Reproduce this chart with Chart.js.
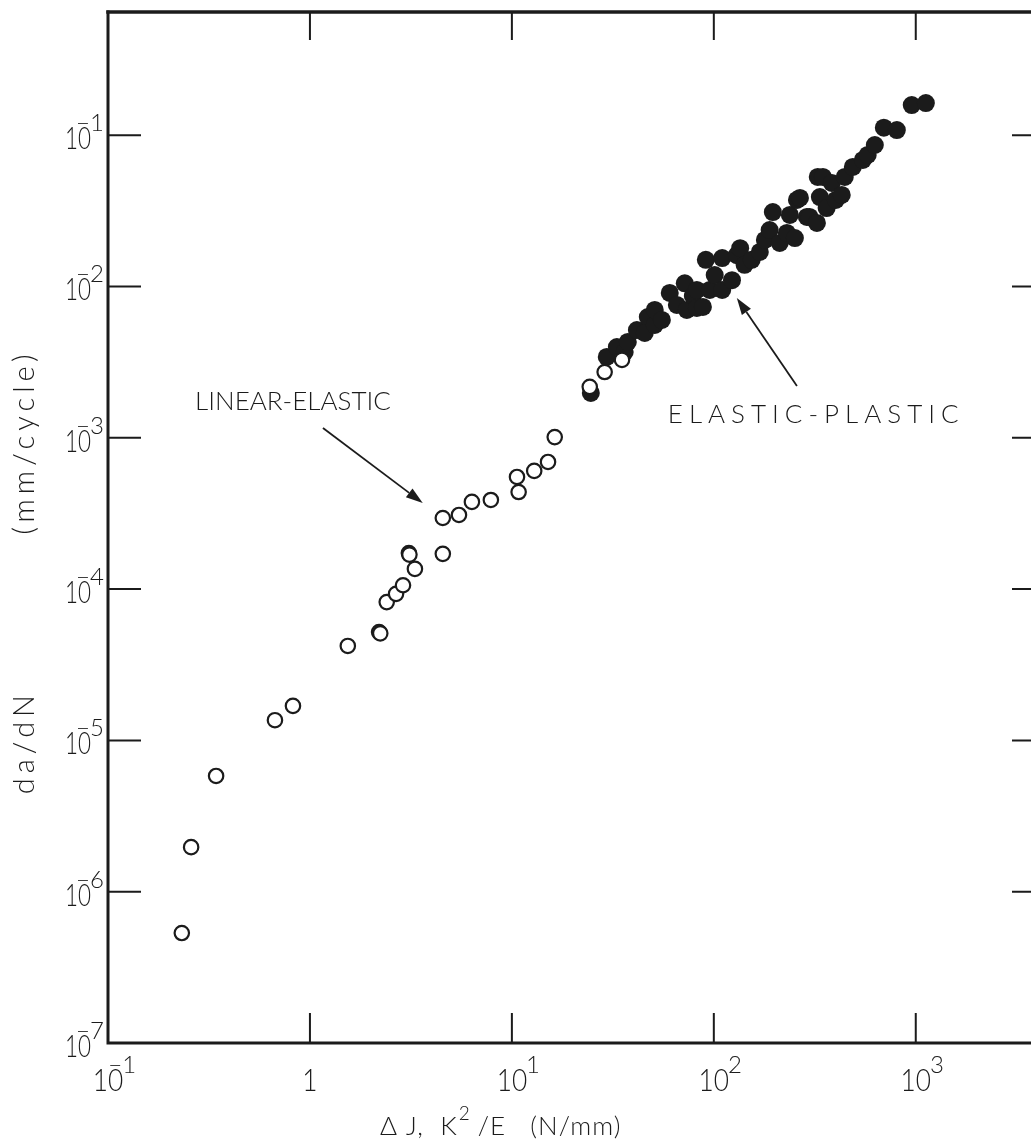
<!DOCTYPE html>
<html>
<head>
<meta charset="utf-8">
<script src="https://cdn.jsdelivr.net/npm/chart.js@4.4.1/dist/chart.umd.min.js"></script>
<style>
  html, body { margin: 0; padding: 0; background: #fff; overflow: hidden; }
  #wrap { position: relative; width: 1060px; height: 1145px; }
</style>
</head>
<body>
<div id="wrap"><canvas id="crackChart"></canvas></div>
<script>
// open circles - linear elastic range (K^2/E)
const openDeltaJ = [0.232, 0.258, 0.343, 0.671, 0.824, 1.54, 2.20, 2.23, 2.40, 2.67, 2.89, 3.31,
  3.09, 3.11, 4.55, 4.55, 5.47, 6.34, 7.87, 10.8, 10.6, 12.9, 15.1, 16.3, 24.3, 28.8, 35.1];
const openRate = [5.33e-7, 1.97e-6, 5.82e-6, 1.36e-5, 1.69e-5, 4.21e-5, 5.2e-5, 5.1e-5, 8.2e-5, 9.3e-5, 1.06e-4, 1.36e-4,
  1.73e-4, 1.69e-4, 1.71e-4, 2.95e-4, 3.09e-4, 3.77e-4, 3.88e-4, 4.38e-4, 5.51e-4, 6.04e-4, 6.92e-4, 1.01e-3, 2.17e-3, 2.72e-3, 3.27e-3];

// filled circles - elastic-plastic range (delta J)
const filledDeltaJ = [24.6, 29.5, 33.1, 36.2, 37.5, 41.6, 47.1, 45.5, 51, 51, 55.3, 60.5, 65.6, 73.5, 71.8, 78.7, 82.4, 82.4, 88.3,
  91.3, 95.5, 101, 110, 110, 123, 130, 135, 142, 154, 169, 179, 189, 196, 212, 230, 238, 252, 258, 267, 289, 298,
  324, 327, 335, 347, 362, 384, 402, 430, 445, 488, 547, 578, 627, 695, 806, 955, 1122];
const filledRate = [1.98e-3, 3.42e-3, 3.98e-3, 3.69e-3, 4.30e-3, 5.15e-3, 6.28e-3, 4.93e-3, 5.57e-3, 7.0e-3, 6.01e-3, 9.06e-3, 7.55e-3, 7.0e-3, 1.05e-2, 8.65e-3, 7.21e-3, 9.48e-3, 7.33e-3,
  1.50e-2, 9.48e-3, 1.19e-2, 1.54e-2, 9.48e-3, 1.10e-2, 1.61e-2, 1.79e-2, 1.39e-2, 1.50e-2, 1.69e-2, 2.03e-2, 2.36e-2, 3.10e-2, 1.94e-2, 2.26e-2, 2.97e-2, 2.09e-2, 3.73e-2, 3.85e-2, 2.88e-2, 2.88e-2,
  2.63e-2, 5.30e-2, 3.90e-2, 5.30e-2, 3.30e-2, 4.83e-2, 3.73e-2, 4.03e-2, 5.30e-2, 6.17e-2, 6.86e-2, 7.40e-2, 8.61e-2, 0.112, 0.108, 0.158, 0.163];

// tick labels: [mantissa, exponent]
const xTickValues = [0.1, 1, 10, 100, 1000];
const xTickLabels = [["10", "-1"], ["1", ""], ["10", "1"], ["10", "2"], ["10", "3"]];
const yTickValues = [1e-1, 1e-2, 1e-3, 1e-4, 1e-5, 1e-6, 1e-7];
const yTickLabels = [["10", "-1"], ["10", "-2"], ["10", "-3"], ["10", "-4"], ["10", "-5"], ["10", "-6"], ["10", "-7"]];

const notes = [
  { text: "LINEAR-ELASTIC", x: 0.27, y: 1.73e-3, spacing: 0, tail: [1.16, 1.16e-3], head: [3.62, 3.7e-4] },
  { text: "ELASTIC-PLASTIC", x: 59.2, y: 1.42e-3, spacing: 6, tail: [258, 2.2e-3], head: [130, 8.4e-3] }
];

const INK = "#1b1b1b";
const FONT = "Lato";

function powLabel(ctx, base, exp, x, cy, align, sx) {
  ctx.save();
  ctx.fillStyle = INK;
  ctx.textAlign = "left";
  ctx.textBaseline = "alphabetic";
  ctx.font = `300 32px ${FONT}`;
  const bw = ctx.measureText(base).width * sx;
  const left = align === "right" ? x - bw : x - bw / 2;
  ctx.save();
  ctx.translate(left, cy + 11);
  ctx.scale(sx, 1);
  ctx.fillText(base, 0, 0);
  ctx.restore();
  if (exp) {
    ctx.font = `300 24px ${FONT}`;
    const digit = exp.replace("-", "");
    if (exp[0] === "-") {
      ctx.textAlign = "center";
      ctx.fillText("\u2212", left + bw - 8, cy - 7);
      ctx.textAlign = "left";
    }
    ctx.fillText(digit, left + bw - 1, cy - 7);
  }
  ctx.restore();
}

const framePlugin = {
  id: "frame",
  beforeDatasetsDraw(chart) {
    const { ctx, chartArea: a, scales: { x, y } } = chart;
    ctx.save();
    ctx.strokeStyle = INK;
    ctx.lineCap = "square";
    ctx.lineWidth = 3;
    ctx.beginPath();
    ctx.moveTo(a.left, a.bottom); ctx.lineTo(a.right, a.bottom);
    ctx.moveTo(a.left, a.top); ctx.lineTo(a.left, a.bottom);
    ctx.moveTo(a.right, a.top); ctx.lineTo(a.right, a.bottom);
    ctx.stroke();
    ctx.lineWidth = 3.5;
    ctx.beginPath();
    ctx.moveTo(a.left, a.top); ctx.lineTo(a.right, a.top);
    ctx.stroke();
    ctx.lineWidth = 2;
    ctx.lineCap = "butt";
    ctx.beginPath();
    xTickValues.slice(1).forEach(v => {
      const px = x.getPixelForValue(v);
      ctx.moveTo(px, a.bottom); ctx.lineTo(px, a.bottom - 30);
      ctx.moveTo(px, a.top); ctx.lineTo(px, a.top + 28);
    });
    yTickValues.slice(0, -1).forEach(v => {
      const py = y.getPixelForValue(v);
      ctx.moveTo(a.left, py); ctx.lineTo(a.left + 33, py);
      ctx.moveTo(a.right, py); ctx.lineTo(a.right - 33, py);
    });
    ctx.stroke();
    ctx.restore();
  },
  afterDraw(chart) {
    const { ctx, chartArea: a, scales: { x, y } } = chart;
    xTickValues.forEach((v, i) => {
      powLabel(ctx, xTickLabels[i][0], xTickLabels[i][1], x.getPixelForValue(v), a.bottom + 37, "center", 0.82);
    });
    yTickValues.forEach((v, i) => {
      powLabel(ctx, yTickLabels[i][0], yTickLabels[i][1], a.left - 17, y.getPixelForValue(v) + 3, "right", 0.7);
    });

    ctx.save();
    ctx.fillStyle = INK;
    ctx.strokeStyle = INK;
    ctx.textBaseline = "middle";

    // x axis title
    const tx = x.getPixelForValue(8.8);
    const ty = a.bottom + 84;
    const p1 = "\u0394 J,  K", p2 = "2", p3 = " /E   (N/mm)";
    ctx.letterSpacing = "1px";
    ctx.font = `300 26px ${FONT}`;
    const w1 = ctx.measureText(p1).width, w3 = ctx.measureText(p3).width;
    ctx.font = `300 19px ${FONT}`;
    const w2 = ctx.measureText(p2).width;
    const cx = tx - (w1 + w2 + w3) / 2;
    ctx.textAlign = "left";
    ctx.font = `300 26px ${FONT}`;
    ctx.fillText(p1, cx, ty);
    ctx.font = `300 19px ${FONT}`;
    ctx.fillText(p2, cx + w1 + 1, ty - 13);
    ctx.font = `300 26px ${FONT}`;
    ctx.fillText(p3, cx + w1 + w2, ty);

    // y axis title, two parts
    ctx.save();
    ctx.translate(a.left - 83, 0);
    ctx.rotate(-Math.PI / 2);
    ctx.textAlign = "center";
    ctx.font = `300 29px ${FONT}`;
    ctx.letterSpacing = "5px";
    ctx.fillText("da/dN", -y.getPixelForValue(9.3e-6) + 3, 0);
    ctx.fillText("(mm/cycle)", -y.getPixelForValue(8.95e-4) + 3, 0);
    ctx.restore();

    // annotations with arrows
    ctx.font = `300 26px ${FONT}`;
    ctx.textAlign = "left";
    ctx.lineWidth = 1.8;
    notes.forEach(n => {
      ctx.letterSpacing = n.spacing + "px";
      ctx.fillText(n.text, x.getPixelForValue(n.x), y.getPixelForValue(n.y));
      const x0 = x.getPixelForValue(n.tail[0]), y0 = y.getPixelForValue(n.tail[1]);
      const x1 = x.getPixelForValue(n.head[0]), y1 = y.getPixelForValue(n.head[1]);
      const ang = Math.atan2(y1 - y0, x1 - x0);
      const len = 17, half = 5.5;
      const bx = x1 - len * Math.cos(ang), by = y1 - len * Math.sin(ang);
      ctx.beginPath();
      ctx.moveTo(x0, y0); ctx.lineTo(bx, by);
      ctx.stroke();
      ctx.beginPath();
      ctx.moveTo(x1, y1);
      ctx.lineTo(bx + half * Math.sin(ang), by - half * Math.cos(ang));
      ctx.lineTo(bx - half * Math.sin(ang), by + half * Math.cos(ang));
      ctx.closePath();
      ctx.fill();
    });
    ctx.restore();
  }
};

new Chart(document.getElementById("crackChart"), {
  type: "scatter",
  data: {
    datasets: [
      {
        label: "linear-elastic",
        data: openDeltaJ.map((v, i) => ({ x: v, y: openRate[i] })),
        pointRadius: 7.2,
        pointBorderWidth: 2.2,
        pointBorderColor: INK,
        pointBackgroundColor: "#fff"
      },
      {
        label: "elastic-plastic",
        data: filledDeltaJ.map((v, i) => ({ x: v, y: filledRate[i] })),
        pointRadius: 9,
        pointBorderWidth: 0,
        pointBorderColor: INK,
        pointBackgroundColor: INK
      }
    ]
  },
  options: {
    responsive: true,
    maintainAspectRatio: false,
    animation: false,
    events: [],
    layout: { padding: { top: 12, right: 15, left: 0, bottom: 0 } },
    plugins: { legend: { display: false }, tooltip: { enabled: false } },
    scales: {
      x: {
        type: "logarithmic",
        min: 0.1,
        max: Math.pow(10, 3.64),
        ticks: { display: false },
        grid: { display: false },
        border: { display: false },
        afterFit: s => { s.height = 102; }
      },
      y: {
        type: "logarithmic",
        min: 1e-7,
        max: Math.pow(10, -0.186),
        ticks: { display: false },
        grid: { display: false },
        border: { display: false },
        afterFit: s => { s.width = 108; }
      }
    }
  },
  plugins: [framePlugin]
});
</script>
</body>
</html>
